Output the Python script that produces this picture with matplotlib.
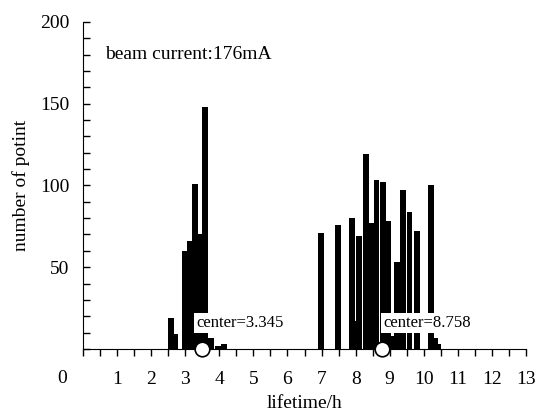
import numpy as np
import matplotlib
matplotlib.use('Agg')
import matplotlib.pyplot as plt
from matplotlib.ticker import MultipleLocator

plt.rcParams['font.family'] = ['Liberation Serif', 'DejaVu Serif']
plt.rcParams['font.size'] = 14

# lifetime bins (h) and counts
life1 = [2.58, 2.71, 2.99, 3.15, 3.29, 3.43, 3.58, 3.76, 3.95, 4.13]
count1 = [19, 9, 60, 66, 101, 70, 148, 7, 2, 3]
life2 = [6.98, 7.48, 7.89, 7.99, 8.10, 8.30, 8.44, 8.61, 8.80, 8.95, 9.05,
         9.21, 9.39, 9.58, 9.79, 10.20, 10.32, 10.42]
count2 = [71, 76, 80, 17, 69, 119, 77, 103, 102, 78, 8,
          53, 97, 84, 72, 100, 7, 3]
centers = [3.48, 8.76]
center_labels = ['center=3.345', 'center=8.758']
label_x = [3.32, 8.80]
xticks = list(range(1, 14))
yticks = [50, 100, 150, 200]

fig = plt.figure(figsize=(5.37, 4.12), dpi=100)
ax = fig.add_axes([0.1546, 0.153, 0.825, 0.794])

ax.bar(life1, count1, width=0.17, color='black', linewidth=0)
ax.bar(life2, count2, width=0.17, color='black', linewidth=0)

for c, lx, lab in zip(centers, label_x, center_labels):
    ax.text(lx, 16, lab, ha='left', va='center', fontsize=12,
            bbox=dict(facecolor='white', edgecolor='none', pad=1.5), zorder=4)
    ax.plot([c], [0], 'o', ms=10.5, mfc='white', mec='black', mew=1.2,
            clip_on=False, zorder=5)

ax.text(0.65, 180, 'beam current:176mA', ha='left', va='center', fontsize=14)

ax.set_xlim(0, 13)
ax.set_ylim(0, 200)
ax.spines['top'].set_visible(False)
ax.spines['right'].set_visible(False)

ax.set_xticks(xticks)
ax.xaxis.set_minor_locator(MultipleLocator(0.5))
ax.tick_params(axis='x', which='both', direction='out', length=5, width=1, pad=11)
ax.set_yticks(yticks)
ax.yaxis.set_minor_locator(MultipleLocator(10))
ax.tick_params(axis='y', which='both', direction='in', length=5, width=1, pad=10)
# the lone "0" sits left of the axis origin
ax.text(-0.6, -18.3, '0', ha='center', va='center', fontsize=14, clip_on=False)

ax.set_xlabel('lifetime/h', labelpad=5)
ax.set_ylabel('number of potint', labelpad=7)

fig.savefig('out.png', dpi=100)
